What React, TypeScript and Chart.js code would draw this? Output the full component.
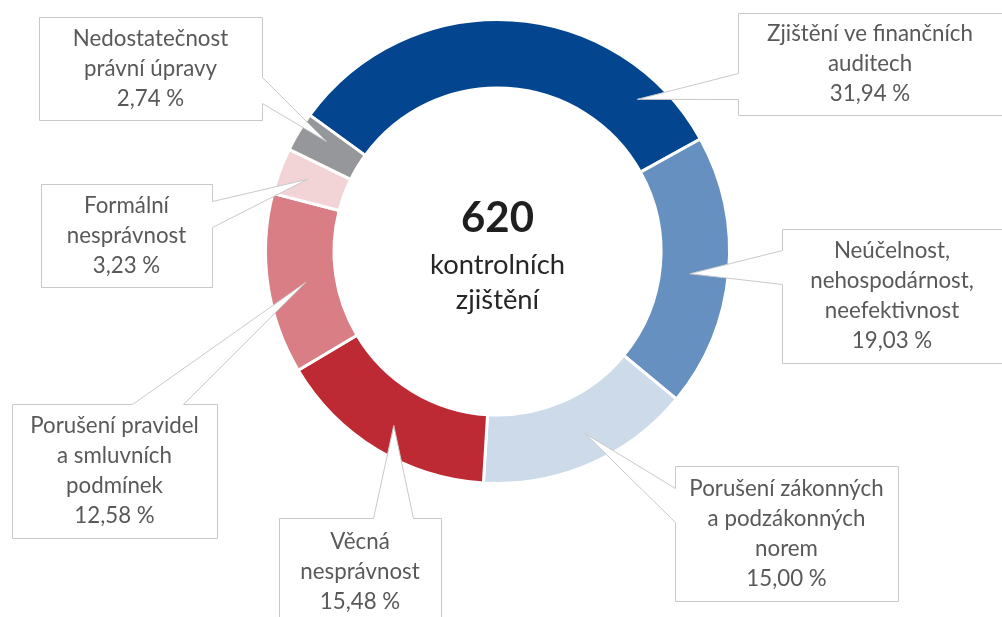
import React, { useEffect, useRef } from "react";
import { Chart, registerables } from "chart.js";

Chart.register(...registerables);

// ---- data ----
const categories: string[][] = [
  ["Zjištění ve finančních", "auditech"],
  ["Neúčelnost,", "nehospodárnost,", "neefektivnost"],
  ["Porušení zákonných", "a podzákonných", "norem"],
  ["Věcná", "nesprávnost"],
  ["Porušení pravidel", "a smluvních", "podmínek"],
  ["Formální", "nesprávnost"],
  ["Nedostatečnost", "právní úpravy"],
];
const shares: number[] = [31.94, 19.03, 15.0, 15.48, 12.58, 3.23, 2.74];
const totalFindings = 620;
const centerCaption: string[] = ["kontrolních", "zjištění"];

// ---- styles ----
const segmentColors = ["#03468F", "#6690C0", "#CCDAEA", "#BE2A34", "#D87E84", "#F2D4D7", "#96979B"];
const LABEL_COLOR = "#595959";
const BORDER_COLOR = "#C9C9C9";
const FONT = "Lato, 'Open Sans', sans-serif";

// callout layout: box [x, y, w, h], pointer side, pointer base along that side,
// tip as fraction of the segment's angle span and ring thickness
const callouts = [
  { box: [738, 13, 280, 102], side: "left", base: [73, 99], tipA: 0.84, tipR: 0.63 },
  { box: [782, 229, 240, 134], side: "left", base: [250, 284], tipA: 0.52, tipR: 0.44 },
  { box: [675, 466, 223, 135], side: "left", base: [488, 522], tipA: 0.46, tipR: 0.56 },
  { box: [279, 518, 162, 107], side: "top", base: [373, 413], tipA: 0.49, tipR: 0.57 },
  { box: [12, 404, 205, 134], side: "top", base: [132, 183], tipA: 0.48, tipR: 0.44 },
  { box: [41, 184, 171, 103], side: "right", base: [201, 227], tipA: 0.54, tipR: 0.58 },
  { box: [39, 17, 223, 103], side: "right", base: [77, 103], tipA: 0.67, tipR: 0.58 },
];

const fmtPct = (v: number) => v.toFixed(2).replace(".", ",") + " %";

function fitSize(ctx: CanvasRenderingContext2D, text: string, target: number, weight: string) {
  ctx.font = `${weight} 20px ${FONT}`;
  const w = ctx.measureText(text).width;
  return (20 * target) / w;
}

const calloutPlugin = {
  id: "callouts",
  afterDraw(chart: any) {
    const ctx: CanvasRenderingContext2D = chart.ctx;
    const meta = chart.getDatasetMeta(0);
    const labelSize = fitSize(ctx, "Zjištění ve finančních", 206, "normal");
    const lineH = 30;
    ctx.save();
    meta.data.forEach((arc: any, i: number) => {
      const c = callouts[i];
      if (!c) return;
      const p = arc.getProps(["x", "y", "startAngle", "endAngle", "innerRadius", "outerRadius"], true);
      const a = p.startAngle + c.tipA * (p.endAngle - p.startAngle);
      const r = p.innerRadius + c.tipR * (p.outerRadius - p.innerRadius);
      const tx = p.x + r * Math.cos(a);
      const ty = p.y + r * Math.sin(a);
      const [x0, y0, w, h] = c.box;
      const x = x0 + 0.5, y = y0 + 0.5;
      const [b1, b2] = c.base;
      ctx.beginPath();
      ctx.moveTo(x, y);
      if (c.side === "top") {
        ctx.lineTo(b1 + 0.5, y);
        ctx.lineTo(tx, ty);
        ctx.lineTo(b2 + 0.5, y);
      }
      ctx.lineTo(x + w, y);
      if (c.side === "right") {
        ctx.lineTo(x + w, b1 + 0.5);
        ctx.lineTo(tx, ty);
        ctx.lineTo(x + w, b2 + 0.5);
      }
      ctx.lineTo(x + w, y + h);
      ctx.lineTo(x, y + h);
      if (c.side === "left") {
        ctx.lineTo(x, b2 + 0.5);
        ctx.lineTo(tx, ty);
        ctx.lineTo(x, b1 + 0.5);
      }
      ctx.closePath();
      ctx.fillStyle = "#FFFFFF";
      ctx.fill();
      ctx.strokeStyle = BORDER_COLOR;
      ctx.lineWidth = 1;
      ctx.stroke();

      const lines = [...categories[i], fmtPct(shares[i])];
      ctx.fillStyle = LABEL_COLOR;
      ctx.font = `normal ${labelSize}px ${FONT}`;
      ctx.textAlign = "center";
      ctx.textBaseline = "middle";
      const cx = x0 + (Math.min(x0 + w, 1002) - x0) / 2;
      const cy = y0 + h / 2;
      const startY = cy - ((lines.length - 1) * lineH) / 2;
      lines.forEach((t, k) => ctx.fillText(t, cx, startY + k * lineH));
    });

    // center text
    const arc0 = meta.data[0];
    if (arc0) {
      const cx = arc0.x;
      const cy = arc0.y;
      ctx.textAlign = "center";
      ctx.textBaseline = "alphabetic";
      ctx.fillStyle = "#1F1F1F";
      const bigSize = fitSize(ctx, String(totalFindings), 73, "bold");
      ctx.font = `bold ${bigSize}px ${FONT}`;
      ctx.fillText(String(totalFindings), cx, cy - 20);
      const capSize = fitSize(ctx, centerCaption[0], 135, "normal");
      ctx.font = `normal ${capSize}px ${FONT}`;
      ctx.fillStyle = "#262626";
      ctx.fillText(centerCaption[0], cx, cy + 22);
      ctx.fillText(centerCaption[1], cx, cy + 57.5);
    }
    ctx.restore();
  },
};

export default function App() {
  const ref = useRef<HTMLCanvasElement>(null);
  useEffect(() => {
    if (!ref.current) return;
    const chart = new Chart(ref.current, {
      type: "doughnut",
      data: {
        labels: categories.map((c) => c.join(" ")),
        datasets: [
          {
            data: shares,
            backgroundColor: segmentColors,
            borderColor: "#FFFFFF",
            borderWidth: 3,
            hoverOffset: 0,
          },
        ],
      },
      options: {
        responsive: false,
        animation: false,
        rotation: -54,
        radius: 232,
        cutout: "70.5%",
        layout: { padding: { left: 267, right: 274, top: 21, bottom: 135 } },
        plugins: { legend: { display: false }, tooltip: { enabled: false } },
        events: [],
      },
      plugins: [calloutPlugin],
    });
    return () => chart.destroy();
  }, []);
  return (
    <div style={{ position: "fixed", left: 0, top: 0, width: 1002, height: 617, background: "#fff" }}>
      <canvas ref={ref} width={1002} height={617} style={{ display: "block" }} />
    </div>
  );
}
